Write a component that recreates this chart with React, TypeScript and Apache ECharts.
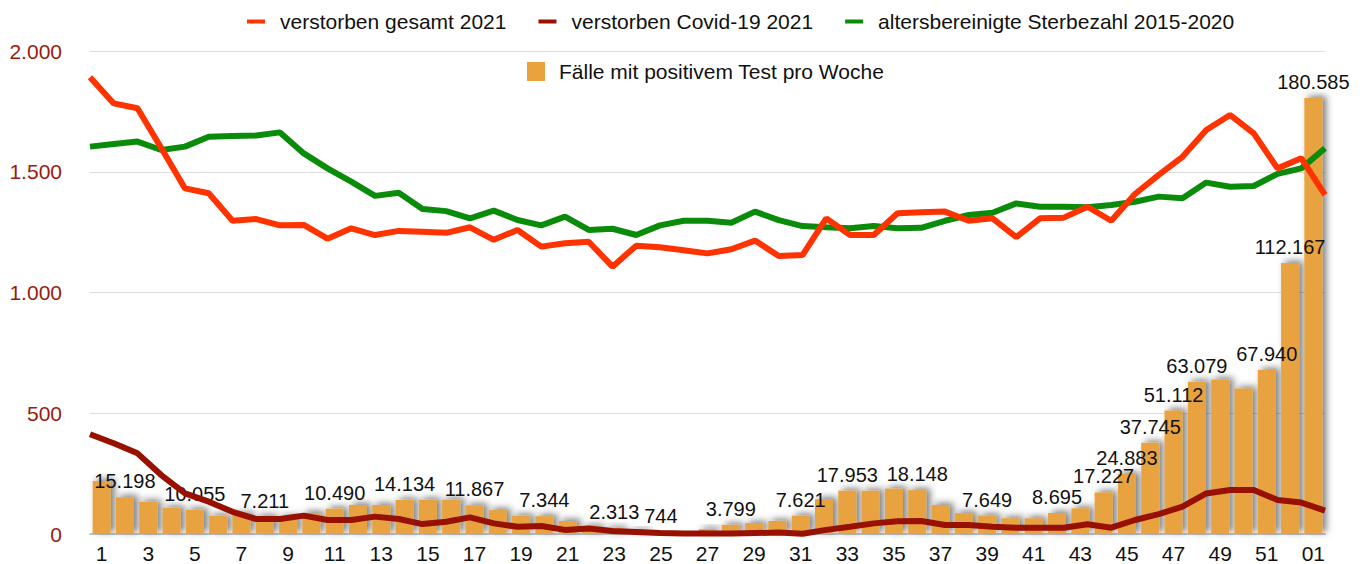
import React, { useEffect, useRef } from "react";
import * as echarts from "echarts";

const weeks: string[] = [
  "1","2","3","4","5","6","7","8","9","10","11","12","13","14","15","16","17","18","19","20",
  "21","22","23","24","25","26","27","28","29","30","31","32","33","34","35","36","37","38","39","40",
  "41","42","43","44","45","46","47","48","49","50","51","52","01",
];

const gesamt2021: number[] = [
  1891,1783,1763,1598,1431,1411,1297,1304,1278,1280,
  1223,1266,1238,1255,1252,1247,1270,1218,1259,1190,
  1204,1210,1107,1194,1187,1175,1162,1179,1215,1151,
  1155,1307,1238,1238,1328,1332,1335,1297,1307,1229,
  1307,1310,1355,1297,1408,1487,1562,1673,1735,1659,
  1514,1556,1404,
];

const covid2021: number[] = [
  413,376,334,244,168,134,92,62,62,76,
  58,58,72,62,41,51,69,44,30,33,
  17,23,12,8,4,2,2,2,4,6,
  1,17,30,44,53,54,37,37,30,26,
  26,26,40,26,58,82,113,168,182,182,
  141,130,97,
];

const sterbezahl1520: number[] = [
  1604,1615,1625,1590,1604,1645,1648,1650,1663,1576,
  1514,1459,1400,1413,1346,1337,1307,1339,1300,1278,
  1314,1259,1264,1238,1278,1297,1297,1289,1335,1300,
  1275,1270,1266,1275,1266,1268,1297,1321,1330,1369,
  1355,1355,1353,1362,1376,1397,1390,1455,1438,1441,
  1491,1514,1597,
];

const faelle: number[] = [
  21950,15198,13380,10900,10055,7580,8300,7211,7000,8700,
  10490,12000,12000,14134,14200,14200,11867,9900,7580,7344,
  5380,3030,2313,1500,744,500,2000,3799,4500,5400,
  7621,14400,17953,17900,18800,18148,12000,8600,7649,6500,
  6500,8695,10640,17227,24883,37745,51112,63079,64000,60300,
  67940,112167,180585,
];

const labeledWeeks: string[] = [
  "2","5","8","11","14","17","20","23","25","28","31","33","36","39","42",
  "44","45","46","47","48","51","52","01",
];

const seriesNames: string[] = [
  "verstorben gesamt 2021",
  "verstorben Covid-19 2021",
  "altersbereinigte Sterbezahl 2015-2020",
  "Fälle mit positivem Test pro Woche",
];

const FONT = "'Liberation Sans', Arial, sans-serif";

function de(n: number): string {
  return String(Math.round(n)).replace(/\B(?=(\d{3})+(?!\d))/g, ".");
}

export default function App() {
  const ref = useRef<HTMLDivElement>(null);
  useEffect(() => {
    if (!ref.current) return;
    const chart = echarts.init(ref.current, null, { renderer: "svg" });
    const barData = faelle.map((v, i) => ({
      value: v,
      label: { show: labeledWeeks.includes(weeks[i]) },
    }));
    chart.setOption({
      animation: false,
      backgroundColor: "#ffffff",
      textStyle: { fontFamily: FONT },
      legend: [
        {
          left: 242,
          top: 6,
          icon: "rect",
          itemWidth: 18,
          itemHeight: 4,
          itemGap: 32,
          data: seriesNames.slice(0, 3),
          textStyle: { fontSize: 21, color: "#111", fontFamily: FONT, padding: [0, 0, 0, 10] },
        },
        {
          left: 522,
          top: 56,
          icon: "rect",
          itemWidth: 18,
          itemHeight: 19,
          data: [seriesNames[3]],
          textStyle: { fontSize: 21, color: "#111", fontFamily: FONT, padding: [0, 0, 0, 9] },
        },
      ],
      grid: { left: 90, right: 44, top: 51, bottom: 30, containLabel: false },
      xAxis: [
        {
          type: "category",
          data: weeks,
          boundaryGap: true,
          axisLine: { show: true, lineStyle: { color: "#c4c4c4", width: 2 } },
          axisTick: { show: false },
          axisLabel: {
            interval: 1,
            fontSize: 21,
            color: "#111",
            margin: 9,
            fontFamily: FONT,
          },
        },
        {
          type: "category",
          data: weeks,
          boundaryGap: false,
          show: false,
        },
      ],
      yAxis: [
        {
          type: "value",
          min: 0,
          max: 2000,
          interval: 500,
          axisLine: { show: false },
          axisTick: { show: false },
          splitLine: { lineStyle: { color: "#dcdcdc", width: 1 } },
          axisLabel: {
            fontSize: 21,
            color: "#9a1b0e",
            margin: 28,
            fontFamily: FONT,
            formatter: (v: number) => de(v),
          },
        },
        {
          type: "value",
          min: 0,
          max: 200000,
          show: false,
          splitLine: { show: false },
        },
      ],
      series: [
        {
          name: seriesNames[3],
          type: "bar",
          xAxisIndex: 0,
          yAxisIndex: 1,
          barWidth: 18,
          data: barData,
          itemStyle: {
            color: "#e8a33f",
            shadowColor: "rgba(0,0,0,0.5)",
            shadowBlur: 7,
            shadowOffsetX: 4,
            shadowOffsetY: -2,
          },
          label: {
            position: "top",
            distance: 6,
            fontSize: 20,
            color: "#111",
            fontFamily: FONT,
            formatter: (p: any) => de(p.value),
          },
          z: 2,
        },
        {
          name: seriesNames[0],
          type: "line",
          xAxisIndex: 1,
          yAxisIndex: 0,
          data: gesamt2021,
          symbol: "none",
          lineStyle: { color: "#ff3300", width: 6 },
          itemStyle: { color: "#ff3300" },
          z: 5,
        },
        {
          name: seriesNames[1],
          type: "line",
          xAxisIndex: 1,
          yAxisIndex: 0,
          data: covid2021,
          symbol: "none",
          lineStyle: { color: "#981000", width: 6 },
          itemStyle: { color: "#981000" },
          z: 5,
        },
        {
          name: seriesNames[2],
          type: "line",
          xAxisIndex: 1,
          yAxisIndex: 0,
          data: sterbezahl1520,
          symbol: "none",
          lineStyle: { color: "#0a8c0a", width: 6 },
          itemStyle: { color: "#0a8c0a" },
          z: 4,
        },
      ],
    });
    return () => chart.dispose();
  }, []);
  return (
    <div
      ref={ref}
      style={{ position: "fixed", left: 0, top: 0, width: 1369, height: 564, background: "#fff" }}
    />
  );
}
